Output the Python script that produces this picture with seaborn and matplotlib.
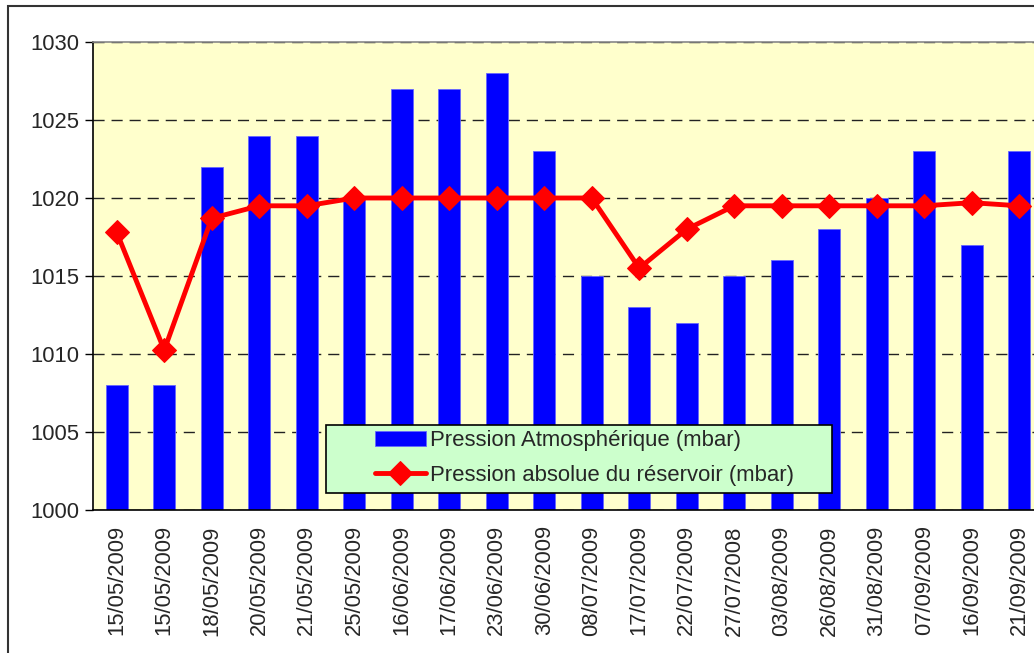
import matplotlib
matplotlib.use("Agg")
import matplotlib.pyplot as plt
from matplotlib.patches import Rectangle
import seaborn as sns
import pandas as pd

# Dates des relevés (axe X)
dates = ["15/05/2009", "15/05/2009", "18/05/2009", "20/05/2009", "21/05/2009",
         "25/05/2009", "16/06/2009", "17/06/2009", "23/06/2009", "30/06/2009",
         "08/07/2009", "17/07/2009", "22/07/2009", "27/07/2008", "03/08/2009",
         "26/08/2009", "31/08/2009", "07/09/2009", "16/09/2009", "21/09/2009"]

# Pression atmosphérique (barres)
p_atmo = [1008, 1008, 1022, 1024, 1024, 1020, 1027, 1027, 1028, 1023,
          1015, 1013, 1012, 1015, 1016, 1018, 1020, 1023, 1017, 1023]

# Pression absolue du réservoir (ligne)
p_reservoir = [1017.8, 1010.25, 1018.7, 1019.5, 1019.5, 1020, 1020, 1020, 1020, 1020,
               1020, 1015.5, 1018, 1019.5, 1019.5, 1019.5, 1019.5, 1019.5, 1019.7, 1019.5]

y_ticks = [1000, 1005, 1010, 1015, 1020, 1025, 1030]

lbl_bar = "Pression Atmosphérique (mbar)"
lbl_line = "Pression absolue du réservoir (mbar)"

df = pd.DataFrame({"idx": range(len(dates)), "atmo": p_atmo, "res": p_reservoir})

sns.set_theme(style="white")
plt.rcParams["font.family"] = ["Liberation Sans", "DejaVu Sans"]
FS = 15.8

fig = plt.figure(figsize=(10.34, 6.53), dpi=100)
ax = fig.add_axes([93 / 1034, 1 - 510 / 653, 950 / 1034, 468 / 653])
ax.set_facecolor("#FFFFCC")

sns.barplot(data=df, x="idx", y="atmo", color="#0000FF", width=0.46,
            saturation=1, edgecolor="#6666FF", linewidth=0.6, ax=ax, label=lbl_bar)
sns.lineplot(data=df, x="idx", y="res", color="#FF0000", linewidth=3.5,
             marker="D", markersize=12, markeredgecolor="#FF0000", ax=ax, label=lbl_line)

ax.set_xlim(-0.5, len(dates) - 0.5)
ax.set_ylim(1000, 1030)
ax.set_yticks(y_ticks)
ax.set_yticklabels([str(v) for v in y_ticks], fontsize=FS)
ax.set_xticks(range(len(dates)))
ax.set_xticklabels(dates, rotation=90, fontsize=FS)
ax.set_xticks([i - 0.5 for i in range(len(dates) + 1)], minor=True)
ax.tick_params(axis="x", which="major", length=0, pad=11)
ax.tick_params(axis="x", which="minor", length=6, width=1, color="black", direction="out")
ax.tick_params(axis="y", length=6, width=1, color="black", direction="out", left=True, pad=4)
ax.set_xlabel("")
ax.set_ylabel("")

ax.yaxis.grid(True, linestyle=(0, (8, 5)), color="#222222", linewidth=1)
ax.set_axisbelow(True)

for s in ["left", "bottom"]:
    ax.spines[s].set_color("black")
    ax.spines[s].set_linewidth(1.2)
ax.spines["top"].set_color("#888888")
ax.spines["top"].set_linewidth(1.2)
ax.spines["right"].set_visible(False)

# légende : barres d'abord, puis la courbe
handles, labels = ax.get_legend_handles_labels()
order = [labels.index(lbl_bar), labels.index(lbl_line)]
leg = ax.legend([handles[i] for i in order], [labels[i] for i in order],
                loc="center left", bbox_to_anchor=(375 / 1034, 1 - 458 / 653),
                bbox_transform=fig.transFigure, borderaxespad=0, borderpad=0,
                fontsize=15.9, frameon=False, handlelength=2.3, handletextpad=0.2,
                labelspacing=0.6)
leg.set_zorder(6)
ax.add_patch(Rectangle((326 / 1034, 1 - 493 / 653), 506 / 1034, 68 / 653,
                       transform=fig.transFigure, facecolor="#CCFFCC",
                       edgecolor="black", linewidth=1.2, zorder=5.5, clip_on=False))

# cadre extérieur du graphique (coupé à droite et en bas)
fig.patches.append(Rectangle((8 / 1034, -0.1), 1.2, 1 - 6 / 653 + 0.1,
                             transform=fig.transFigure, fill=False,
                             edgecolor="#333333", linewidth=1.5, zorder=-1))

fig.savefig("out.png", dpi=100)
